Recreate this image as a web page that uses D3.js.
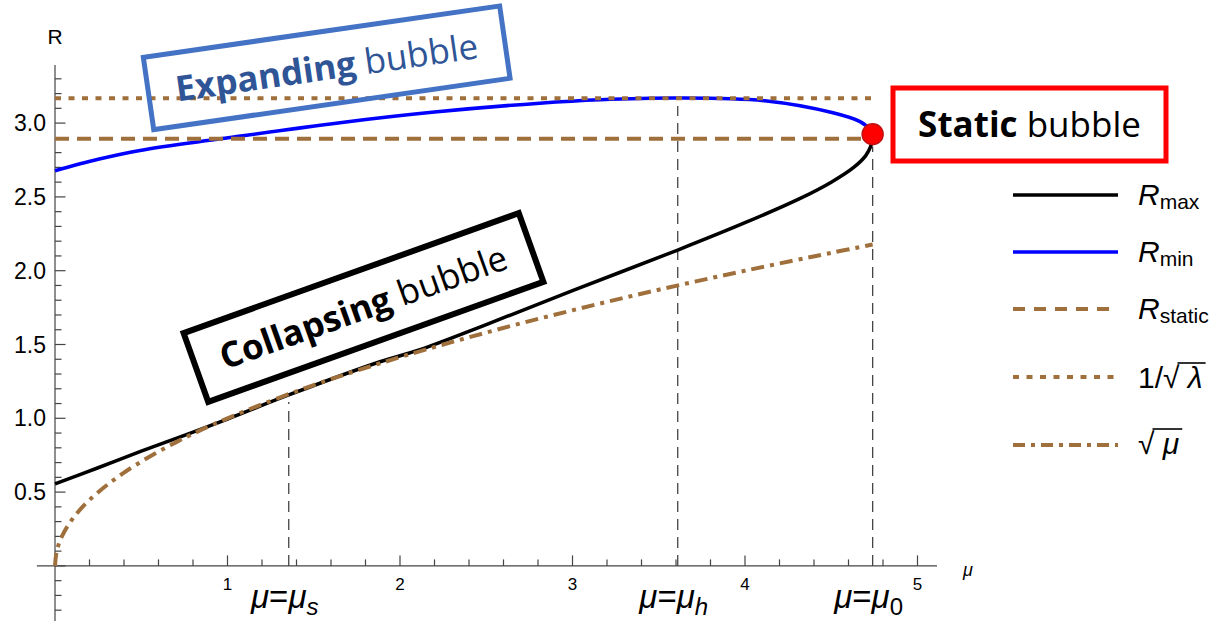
<!DOCTYPE html>
<html>
<head>
<meta charset="utf-8">
<script src="https://cdn.jsdelivr.net/npm/d3@7"></script>
<style>
  body { margin: 0; background: #fff; }
  svg { display: block; }
</style>
</head>
<body>
<svg id="chart" width="1224" height="621"></svg>
<script>
// Werte
var muMax = [0, 0.25, 0.5, 0.75, 1.0, 1.355, 1.884, 2.116, 2.5, 3.0, 3.61, 4.0, 4.32, 4.5, 4.63, 4.70, 4.728, 4.74];
var rMax  = [0.555, 0.665, 0.777, 0.885, 0.995, 1.158, 1.383, 1.465, 1.635, 1.865, 2.14, 2.325, 2.49, 2.60, 2.70, 2.78, 2.84, 2.90];

var muMin = [0, 0.25, 0.493, 0.97, 1.652, 2.2, 2.81, 3.16, 3.61, 4.126, 4.51, 4.667, 4.72, 4.74];
var rMin  = [2.677, 2.755, 2.815, 2.895, 3.003, 3.075, 3.135, 3.158, 3.17, 3.15, 3.07, 3.01, 2.96, 2.90];

var muSqrt = [0, 0.01, 0.04, 0.1, 0.2, 0.4, 0.7, 1.0, 1.5, 2.0, 2.5, 3.0, 3.5, 4.0, 4.5, 4.74];
var rSqrt  = [0, 0.1, 0.2, 0.316, 0.447, 0.632, 0.837, 1.0, 1.225, 1.414, 1.581, 1.732, 1.871, 2.0, 2.121, 2.177];

var rStatic = 2.894;
var rLambda = 3.168;

var muMarks = [1.355, 3.61, 4.74];       // mu_s, mu_h, mu_0
var markTop = [1.164, 3.17, 2.894];      // wo die gestrichelten Linien enden
var markSub = ["s", "h", "0"];

var xTicks = [1, 2, 3, 4, 5];
var yTicks = [0.5, 1.0, 1.5, 2.0, 2.5, 3.0];

var brown = "#a0703c";

var svg = d3.select("#chart");

// Skalen
var x = d3.scaleLinear().domain([0, 5]).range([55, 917.5]);
var y = d3.scaleLinear().domain([0, 3]).range([565.9, 123.1]);

// Achsen
var axes = svg.append("g").attr("stroke", "#444").attr("stroke-width", 1.2);
axes.append("line").attr("x1", x(-0.105)).attr("x2", x(5.113)).attr("y1", y(0)).attr("y2", y(0));
axes.append("line").attr("x1", x(0)).attr("x2", x(0)).attr("y1", y(3.393)).attr("y2", 621);

var xMinor = d3.range(1, 26).map(function(i) { return i * 0.2; });
axes.selectAll(".xt").data(xMinor).enter().append("line")
    .attr("x1", function(d) { return x(d); }).attr("x2", function(d) { return x(d); })
    .attr("y1", y(0))
    .attr("y2", function(d) { return Math.abs(d - Math.round(d)) < 1e-6 ? y(0) - 10.5 : y(0) - 6.5; });

var yMinor = d3.range(-4, 34).map(function(i) { return i * 0.1; });
axes.selectAll(".yt").data(yMinor).enter().append("line")
    .attr("x1", x(0))
    .attr("x2", function(d) { return Math.abs(d * 2 - Math.round(d * 2)) < 1e-6 ? x(0) + 10.5 : x(0) + 6.5; })
    .attr("y1", function(d) { return y(d); }).attr("y2", function(d) { return y(d); });

svg.selectAll(".xl").data(xTicks).enter().append("text")
    .attr("x", function(d) { return x(d); }).attr("y", 590)
    .attr("text-anchor", "middle")
    .style("font", "17px 'Liberation Sans', Arial, sans-serif")
    .text(function(d) { return d; });

svg.selectAll(".yl").data(yTicks).enter().append("text")
    .attr("x", 46).attr("y", function(d) { return y(d) + 8; })
    .attr("text-anchor", "end")
    .style("font", "23px 'Liberation Sans', Arial, sans-serif")
    .text(function(d) { return d.toFixed(1); });

svg.append("text").attr("x", 55).attr("y", 44).attr("text-anchor", "middle")
    .style("font", "21px 'Liberation Sans', Arial, sans-serif").text("R");
svg.append("text").attr("x", 968).attr("y", 576).attr("text-anchor", "middle")
    .style("font", "italic 18px 'Liberation Sans', Arial, sans-serif").text("μ");

// senkrechte Hilfslinien
svg.selectAll(".vm").data(muMarks).enter().append("line")
    .attr("x1", function(d) { return x(d); }).attr("x2", function(d) { return x(d); })
    .attr("y1", y(0)).attr("y2", function(d, i) { return y(markTop[i]) + 8; })
    .attr("stroke", "#444").attr("stroke-width", 1.3).attr("stroke-dasharray", "11,7");

var lab = svg.selectAll(".ml").data(muMarks).enter().append("text")
    .attr("x", function(d) { return x(d) - 4; }).attr("y", 608)
    .attr("text-anchor", "middle")
    .style("font", "33px 'Liberation Sans', Arial, sans-serif");
lab.append("tspan").style("font-style", "italic").text("μ");
lab.append("tspan").text("=");
lab.append("tspan").style("font-style", "italic").text("μ");
lab.append("tspan").attr("dy", 7).style("font-size", "24px")
    .style("font-style", function(d, i) { return markSub[i] === "0" ? "normal" : "italic"; })
    .text(function(d, i) { return markSub[i]; });

// Kurven
var line = d3.line()
    .x(function(d) { return x(d[0]); })
    .y(function(d) { return y(d[1]); })
    .curve(d3.curveCatmullRom.alpha(0.5));

svg.append("path").datum(d3.zip(muMax, rMax)).attr("d", line)
    .attr("fill", "none").attr("stroke", "#000").attr("stroke-width", 3.5);
svg.append("path").datum(d3.zip(muMin, rMin)).attr("d", line)
    .attr("fill", "none").attr("stroke", "#0000ff").attr("stroke-width", 3.5);

svg.append("line").attr("x1", x(0)).attr("x2", x(4.74)).attr("y1", y(rStatic)).attr("y2", y(rStatic))
    .attr("stroke", brown).attr("stroke-width", 4).attr("stroke-dasharray", "14,8");
svg.append("line").attr("x1", x(0)).attr("x2", x(4.74)).attr("y1", y(rLambda)).attr("y2", y(rLambda))
    .attr("stroke", brown).attr("stroke-width", 4).attr("stroke-dasharray", "6,7.5");
svg.append("path").datum(d3.zip(muSqrt, rSqrt)).attr("d", line)
    .attr("fill", "none").attr("stroke", brown).attr("stroke-width", 4).attr("stroke-dasharray", "13,6,4,6");

// statischer Punkt
svg.append("circle").attr("cx", x(4.74)).attr("cy", y(2.925)).attr("r", 10.5)
    .attr("fill", "#ff0000").attr("stroke", "#c01010").attr("stroke-width", 1.5);

// Textkaesten
function kasten(cx, cy, w, h, winkel, rand, dicke, farbe, fett, rest) {
    var g = svg.append("g").attr("transform", "translate(" + cx + "," + cy + ") rotate(" + winkel + ")");
    g.append("rect").attr("x", -w / 2).attr("y", -h / 2).attr("width", w).attr("height", h)
        .attr("fill", "none").attr("stroke", rand).attr("stroke-width", dicke);
    var t = g.append("text").attr("x", 0).attr("y", 12).attr("text-anchor", "middle")
        .style("font", "35px 'Open Sans', Lato, sans-serif").attr("fill", farbe);
    t.append("tspan").style("font-weight", "bold").text(fett);
    t.append("tspan").text(" " + rest);
}
kasten(326.7, 67.8, 360, 73, -8.2, "#4472c4", 5, "#2f5597", "Expanding", "bubble");
kasten(363.5, 307.5, 356, 73, -19.7, "#000", 6, "#000", "Collapsing", "bubble");
kasten(1029.5, 124.5, 273, 73, 0, "#ff0000", 5, "#000", "Static", "bubble");

// Legende
var legY = [195, 252, 309, 377, 445];
var legDash = [null, null, "12,9", "6,7.5", "12,6,4,6"];
var legCol = ["#000", "#0000ff", brown, brown, brown];
var legW = [3.5, 3.5, 4, 4, 4];
var legSub = ["max", "min", "static"];

svg.selectAll(".lg").data(legY).enter().append("line")
    .attr("x1", 1013).attr("x2", 1118)
    .attr("y1", function(d) { return d; }).attr("y2", function(d) { return d; })
    .attr("stroke", function(d, i) { return legCol[i]; })
    .attr("stroke-width", function(d, i) { return legW[i]; })
    .attr("stroke-dasharray", function(d, i) { return legDash[i]; });

legSub.forEach(function(s, i) {
    var t = svg.append("text").attr("x", 1138).attr("y", legY[i] + 10)
        .style("font", "30px 'Liberation Sans', Arial, sans-serif");
    t.append("tspan").style("font-style", "italic").text("R");
    t.append("tspan").attr("dy", 4).style("font-size", "21px").text(s);
});

// 1/sqrt(lambda) und sqrt(mu) mit Wurzelstrich
function wurzel(x0, yb, vor, unter) {
    var t = svg.append("text").attr("x", x0).attr("y", yb)
        .style("font", "30px 'Liberation Sans', Arial, sans-serif");
    t.append("tspan").text(vor + "√");
    t.append("tspan").style("font-style", "italic").text(" " + unter);
    var bb = t.node().getBBox();
    var w0 = t.node().getSubStringLength(0, vor.length + 1);
    svg.append("line").attr("x1", x0 + w0 - 2).attr("x2", bb.x + bb.width + 3)
        .attr("y1", yb - 25).attr("y2", yb - 25).attr("stroke", "#000").attr("stroke-width", 1.6);
}
wurzel(1138, legY[3] + 11, "1/", "λ");
wurzel(1138, legY[4] + 9, "", "μ");
</script>
</body>
</html>
